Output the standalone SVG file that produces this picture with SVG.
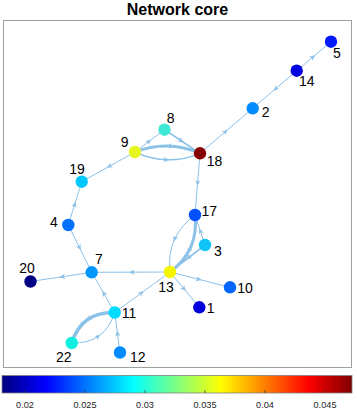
<svg xmlns="http://www.w3.org/2000/svg" width="357" height="410" viewBox="0 0 357 410">
<style>
.e{fill:none;stroke:#8cc1e8;stroke-width:1;marker-mid:url(#ar)}
.t{stroke-width:3}
.n{stroke:none}
.lb{font-family:"Liberation Sans",Arial,sans-serif;font-size:14px;fill:#000}
.tk{font-family:"Liberation Sans",Arial,sans-serif;font-size:9.2px;fill:#262626;text-anchor:middle}
</style>
<defs>
<marker id="ar" markerUnits="userSpaceOnUse" markerWidth="12" markerHeight="12" refX="0" refY="0" viewBox="-6 -6 12 12" orient="auto" overflow="visible">
<path d="M1.8,0 L-4,-2.6 L-2.5,0 L-4,2.6 Z" fill="#8cc1e8"/>
</marker>
<linearGradient id="jet" x1="0" y1="0" x2="1" y2="0">
<stop offset="0" stop-color="#000080"/>
<stop offset="0.125" stop-color="#0000ff"/>
<stop offset="0.375" stop-color="#00ffff"/>
<stop offset="0.625" stop-color="#ffff00"/>
<stop offset="0.875" stop-color="#ff0000"/>
<stop offset="1" stop-color="#800000"/>
</linearGradient>
</defs>
<rect width="357" height="410" fill="#fff"/>
<text x="177.5" y="14.5" font-family="Liberation Sans,Arial,sans-serif" font-size="16" font-weight="bold" text-anchor="middle" fill="#000">Network core</text>
<rect x="3.5" y="20.5" width="348" height="347" fill="#fff" stroke="#a0a0a0" stroke-width="1"/>
<g id="edges">
<path class="e" d="M296.7,70.7 L313.85,56.2 L331,41.7"/>
<path class="e" d="M296.7,70.7 L274.7,89.5 L252.7,108.3"/>
<path class="e" d="M200,153.3 L226.35,130.8 L252.7,108.3"/>
<path class="e" d="M200,153.3 L197.5,184.15 L195,215"/>
<path class="e" d="M135,152 L149.75,140.85 L164.5,129.7"/>
<path class="e" style="stroke-width:1.6" d="M164.5,129.7 L182.25,141.5 L200,153.3"/>
<path class="e" d="M135,152 L108.35,166.85 L81.7,181.7"/>
<path class="e" d="M68.3,225 L75,203.35 L81.7,181.7"/>
<path class="e" d="M68.3,225 L80,248.65 L91.7,272.3"/>
<path class="e" d="M91.7,272.3 L61.1,276.9 L30.5,281.5"/>
<path class="e" d="M170,272 L130.85,272.15 L91.7,272.3"/>
<path class="e" d="M114.7,312.5 L103.2,292.4 L91.7,272.3"/>
<path class="e" d="M114.7,312.5 L142.35,292.25 L170,272"/>
<path class="e" d="M205,245 L200,230 L195,215"/>
<path class="e" style="stroke-width:1.6" d="M205,245 L187.5,258.5 L170,272"/>
<path class="e" d="M170,272 L200,279.65 L230,287.3"/>
<path class="e" d="M170,272 L184.65,289.65 L199.3,307.3"/>
<path class="e" d="M120,352.5 L117.35,332.5 L114.7,312.5"/>
<path class="e t" d="M200,153.3 Q183.75,146.4 167.5,146.08 Q151.25,145.75 135,152"/>
<path class="e" style="stroke-width:1.4" d="M135,152 Q151.25,159.5 167.5,159.8 Q183.75,160.15 200,153.3"/>
<path class="e t" d="M170,272 Q184.5,261.35 190.75,247.1 Q197,232.85 195,215"/>
<path class="e" d="M195,215 Q180.5,225.65 174.25,239.9 Q168,254.15 170,272"/>
<path class="e" style="stroke-width:3.5" d="M114.7,312.5 Q98.05,312.1 87.3,319.73 Q76.55,327.35 71.7,343"/>
<path class="e" d="M71.7,343 Q88.25,343.55 99,335.9 Q109.75,328.3 114.7,312.5"/>
</g>
<g id="node1"><circle class="n" cx="199.3" cy="307.3" r="6.2" fill="#0000dc"/><text class="lb" x="206.7" y="313">1</text></g>
<g id="node2"><circle class="n" cx="252.7" cy="108.3" r="6.2" fill="#008cff"/><text class="lb" x="261.7" y="117">2</text></g>
<g id="node3"><circle class="n" cx="205" cy="245" r="6.2" fill="#10c4fa"/><text class="lb" x="214" y="256">3</text></g>
<g id="node4"><circle class="n" cx="68.3" cy="225" r="6.2" fill="#0070ff"/><text class="lb" x="50" y="227">4</text></g>
<g id="node5"><circle class="n" cx="331" cy="41.7" r="6.2" fill="#0019ff"/><text class="lb" x="333" y="58">5</text></g>
<g id="node7"><circle class="n" cx="91.7" cy="272.3" r="6.2" fill="#0096ff"/><text class="lb" x="95" y="264">7</text></g>
<g id="node8"><circle class="n" cx="164.5" cy="129.7" r="6.2" fill="#3ee8d5"/><text class="lb" x="166.7" y="122.5">8</text></g>
<g id="node9"><circle class="n" cx="135" cy="152" r="6.2" fill="#e6f51e"/><text class="lb" x="120.7" y="146.5">9</text></g>
<g id="node10"><circle class="n" cx="230" cy="287.3" r="6.2" fill="#0064ff"/><text class="lb" x="237.3" y="293">10</text></g>
<g id="node11"><circle class="n" cx="114.7" cy="312.5" r="6.2" fill="#00dcff"/><text class="lb" x="121.7" y="318">11</text></g>
<g id="node12"><circle class="n" cx="120" cy="352.5" r="6.2" fill="#008cff"/><text class="lb" x="130" y="362">12</text></g>
<g id="node13"><circle class="n" cx="170" cy="272" r="6.2" fill="#f5f500"/><text class="lb" x="158.3" y="291.5">13</text></g>
<g id="node14"><circle class="n" cx="296.7" cy="70.7" r="6.2" fill="#0000e1"/><text class="lb" x="299" y="86">14</text></g>
<g id="node17"><circle class="n" cx="195" cy="215" r="6.2" fill="#0050ff"/><text class="lb" x="201.5" y="215.5">17</text></g>
<g id="node18"><circle class="n" cx="200" cy="153.3" r="6.2" fill="#870000"/><text class="lb" x="206.7" y="166">18</text></g>
<g id="node19"><circle class="n" cx="81.7" cy="181.7" r="6.2" fill="#00c8ff"/><text class="lb" x="69.3" y="174">19</text></g>
<g id="node20"><circle class="n" cx="30.5" cy="281.5" r="6.2" fill="#000082"/><text class="lb" x="19.3" y="273">20</text></g>
<g id="node22"><circle class="n" cx="71.7" cy="343" r="6.2" fill="#10f0e0"/><text class="lb" x="56" y="361.5">22</text></g>
<g id="colorbar">
<rect x="2" y="375.5" width="350" height="17.5" fill="url(#jet)" stroke="#808080" stroke-width="0.8"/>
<g stroke="#333" stroke-width="0.7">
<line x1="25" y1="390" x2="25" y2="393"/>
<line x1="85" y1="390" x2="85" y2="393"/>
<line x1="145" y1="390" x2="145" y2="393"/>
<line x1="205" y1="390" x2="205" y2="393"/>
<line x1="265" y1="390" x2="265" y2="393"/>
<line x1="325" y1="390" x2="325" y2="393"/>
</g>
<text class="tk" x="25" y="407.5">0.02</text>
<text class="tk" x="85" y="407.5">0.025</text>
<text class="tk" x="145" y="407.5">0.03</text>
<text class="tk" x="205" y="407.5">0.035</text>
<text class="tk" x="265" y="407.5">0.04</text>
<text class="tk" x="325" y="407.5">0.045</text>
</g>
</svg>
